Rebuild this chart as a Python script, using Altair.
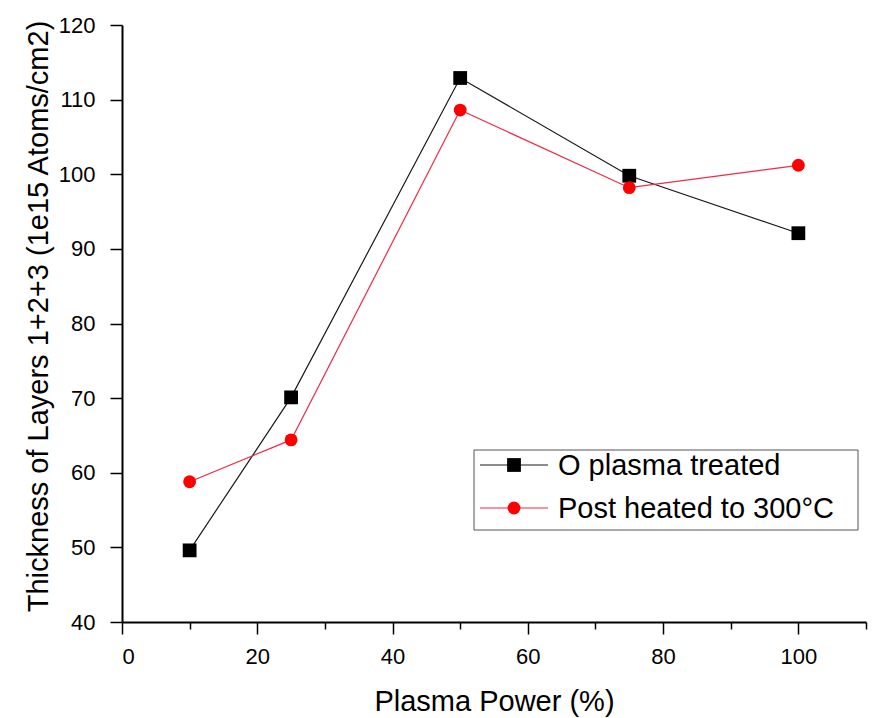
import altair as alt
import pandas as pd

# ---- data ----
power = [10, 25, 50, 75, 100]
o_plasma = [49.6, 70.1, 112.9, 99.8, 92.1]
post_heated = [58.8, 64.4, 108.6, 98.2, 101.2]
series_names = ["O plasma treated", "Post heated to 300°C"]
line_colors = ["#1a1a1a", "#ee2a44"]
marker_colors = ["#000000", "#ff0000"]
marker_shapes = ["square", "circle"]
marker_sizes = [190, 165]
x_ticks = [0, 10, 20, 30, 40, 50, 60, 70, 80, 90, 100, 110]
y_ticks = [40, 45, 50, 55, 60, 65, 70, 75, 80, 85, 90, 95, 100, 105, 110, 115, 120]

rows = []
for p, a, b in zip(power, o_plasma, post_heated):
    rows.append({"power": p, "thickness": a, "series": series_names[0]})
    rows.append({"power": p, "thickness": b, "series": series_names[1]})
df = pd.DataFrame(rows)

FONT = "Liberation Sans"

x_enc = alt.X(
    "power:Q",
    scale=alt.Scale(domain=[0, 110], nice=False, zero=False),
    axis=alt.Axis(
        title="Plasma Power (%)",
        values=x_ticks,
        labelExpr="datum.value % 20 === 0 && datum.value <= 100 ? datum.label : ''",
        tickSize={"condition": {"test": "datum.value % 20 === 0", "value": 12}, "value": 7},
        labelPadding=12,
        labelFontSize=22,
        titleFontSize=29,
        titleFontWeight="normal",
        titleY=88,
        titleBaseline="alphabetic",
        grid=False,
    ),
)
y_enc = alt.Y(
    "thickness:Q",
    scale=alt.Scale(domain=[40, 120], nice=False, zero=False),
    axis=alt.Axis(
        title="Thickness of Layers 1+2+3 (1e15 Atoms/cm2)",
        values=y_ticks,
        labelExpr="datum.value % 10 === 0 ? datum.label : ''",
        tickSize={"condition": {"test": "datum.value % 10 === 0", "value": 12}, "value": 7},
        labelPadding=15,
        labelFontSize=22,
        titleFontSize=29,
        titleFontWeight="normal",
        titleAngle=-90,
        titleX=-75,
        titleY=291,
        titleAlign="center",
        titleBaseline="alphabetic",
        grid=False,
    ),
)

color_scale = alt.Scale(domain=series_names, range=line_colors)

lines = alt.Chart(df).mark_line(strokeWidth=1.2).encode(
    x=x_enc, y=y_enc,
    color=alt.Color("series:N", scale=color_scale, legend=None),
)

point_layers = []
for i in range(2):
    point_layers.append(
        alt.Chart(df).transform_filter(
            alt.datum.series == series_names[i]
        ).mark_point(shape=marker_shapes[i], filled=True, size=marker_sizes[i],
                     opacity=1, color=marker_colors[i]).encode(
            x="power:Q", y="thickness:Q"
        )
    )

# ---- legend box (drawn as guide marks inside the plot area) ----
one = pd.DataFrame({"k": [0]})
legend_box = alt.Chart(one).mark_rect(fill="white", stroke="#555555", strokeWidth=1).encode(
    x=alt.value(352), x2=alt.value(736), y=alt.value(425), y2=alt.value(505)
)
legend_layers = [legend_box]
row_y = [440, 483]
for i in range(2):
    legend_layers.append(
        alt.Chart(one).mark_rule(color=line_colors[i], strokeWidth=1.2).encode(
            x=alt.value(358), x2=alt.value(426), y=alt.value(row_y[i])
        )
    )
    legend_layers.append(
        alt.Chart(one).mark_point(shape=marker_shapes[i], filled=True, size=marker_sizes[i],
                                  opacity=1, color=marker_colors[i]).encode(
            x=alt.value(392), y=alt.value(row_y[i])
        )
    )
    legend_layers.append(
        alt.Chart(pd.DataFrame({"label": [series_names[i]]})).mark_text(
            align="left", baseline="middle", fontSize=29, font=FONT, color="black"
        ).encode(
            x=alt.value(436), y=alt.value(row_y[i] + 1), text="label:N"
        )
    )

chart = alt.layer(lines, *point_layers, *legend_layers).properties(
    width=744, height=597,
    padding={"left": 24, "top": 14, "right": 6, "bottom": 2},
    background="white",
).configure_view(stroke=None).configure_axis(
    domainColor="black", domainWidth=2, tickColor="black", tickWidth=1.5,
    labelColor="black", titleColor="black", labelFont=FONT, titleFont=FONT,
)

chart.save("out.html", embed_options={"renderer": "svg", "actions": False})
